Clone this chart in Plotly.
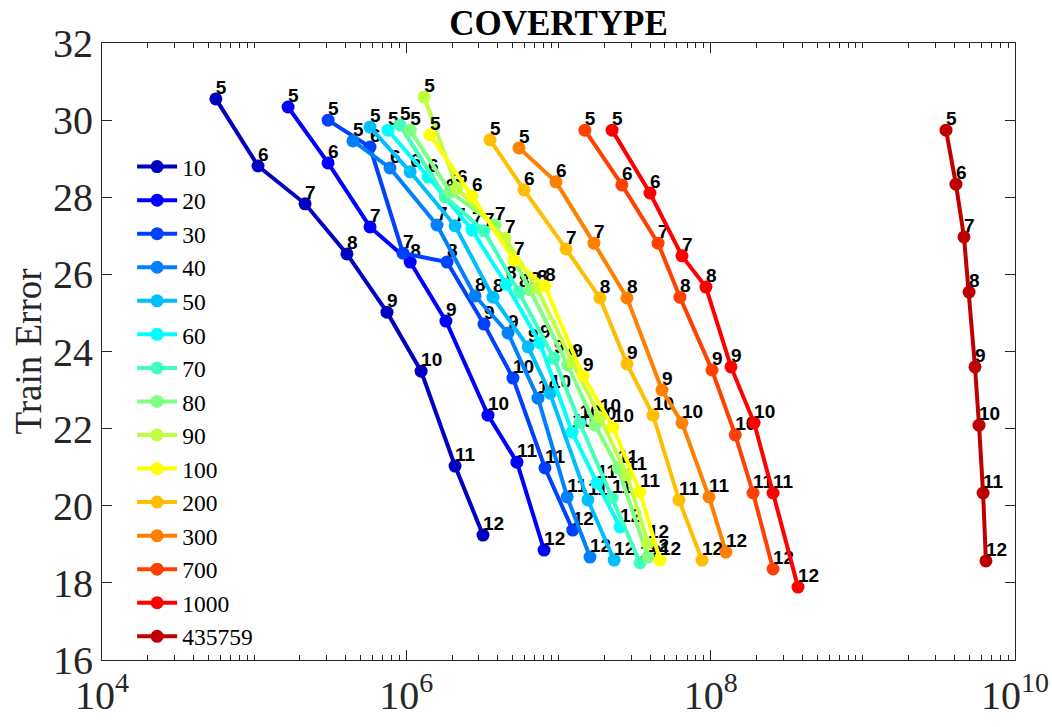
import plotly.graph_objects as go

# Legend names (number of ... per series)
series_names = ["10", "20", "30", "40", "50", "60", "70", "80", "90", "100",
                "200", "300", "700", "1000", "435759"]
point_labels = ["5", "6", "7", "8", "9", "10", "11", "12"]

colors = ["#0000BF", "#0000FF", "#0040FF", "#0080FF", "#00BFFF", "#00FFFF",
          "#40FFBF", "#80FF80", "#BFFF40", "#FFFF00", "#FFBF00", "#FF8000",
          "#FF4000", "#FF0000", "#BF0000"]

# x values (log scale) per series, for points 5..12
x_10 = [5.6e4, 1.06e5, 2.16e5, 4.07e5, 7.46e5, 1.25e6, 2.09e6, 3.19e6]
x_20 = [1.67e5, 3.06e5, 5.77e5, 1.06e6, 1.82e6, 3.44e6, 5.33e6, 8.04e6]
x_30 = [3.06e5, 5.77e5, 9.51e5, 1.85e6, 3.24e6, 5.02e6, 8.15e6, 1.24e7]
x_40 = [4.46e5, 7.81e5, 1.59e6, 2.83e6, 4.66e6, 7.33e6, 1.14e7, 1.61e7]
x_50 = [5.77e5, 1.06e6, 2.09e6, 3.71e6, 6.31e6, 8.79e6, 1.56e7, 2.32e7]
x_60 = [7.57e5, 1.39e6, 2.70e6, 4.52e6, 7.55e6, 1.23e7, 1.79e7, 2.54e7]
x_70 = [9.08e5, 1.80e6, 3.24e6, 5.50e6, 9.33e6, 1.38e7, 2.25e7, 3.43e7]
x_80 = [1.06e6, 1.94e6, 3.83e6, 6.50e6, 1.15e7, 1.74e7, 2.46e7, 3.87e7]
x_90 = [1.31e6, 2.15e6, 4.45e6, 7.22e6, 1.23e7, 1.87e7, 2.82e7, 3.87e7]
x_100 = [1.43e6, 2.70e6, 5.10e6, 8.15e6, 1.45e7, 2.28e7, 3.43e7, 4.65e7]
x_200 = [3.55e6, 5.93e6, 1.12e7, 1.87e7, 2.82e7, 4.18e7, 6.19e7, 8.77e7]
x_300 = [5.50e6, 9.62e6, 1.71e7, 2.82e7, 4.79e7, 6.48e7, 9.75e7, 1.26e8]
x_700 = [1.49e7, 2.61e7, 4.51e7, 6.28e7, 1.02e8, 1.45e8, 1.90e8, 2.57e8]
x_1000 = [2.25e7, 3.99e7, 6.48e7, 9.31e7, 1.36e8, 1.93e8, 2.57e8, 3.75e8]
x_full = [3.52e9, 4.09e9, 4.62e9, 4.99e9, 5.46e9, 5.80e9, 6.17e9, 6.44e9]

# Train error per series, for points 5..12
y_10 = [30.55, 28.81, 27.83, 26.53, 25.02, 23.49, 21.03, 19.24]
y_20 = [30.34, 28.89, 27.23, 26.32, 24.79, 22.35, 21.13, 18.85]
y_30 = [30.00, 29.30, 26.55, 26.32, 24.71, 23.31, 20.98, 19.37]
y_40 = [29.46, 28.76, 27.28, 25.44, 24.48, 22.79, 20.23, 18.67]
y_50 = [29.82, 28.66, 27.26, 25.41, 24.12, 22.92, 20.15, 18.59]
y_60 = [29.74, 28.53, 27.15, 25.75, 24.22, 21.91, 20.59, 19.45]
y_70 = [29.87, 28.01, 27.13, 25.54, 23.83, 22.15, 20.20, 18.52]
y_80 = [29.74, 28.14, 27.28, 25.60, 23.65, 22.09, 20.98, 18.67]
y_90 = [30.60, 28.24, 26.94, 25.65, 23.73, 22.30, 20.80, 19.03]
y_100 = [29.62, 28.03, 26.37, 25.70, 23.37, 22.04, 20.36, 18.59]
y_200 = [29.49, 28.19, 26.66, 25.39, 23.68, 22.35, 20.15, 18.59]
y_300 = [29.28, 28.40, 26.81, 25.39, 23.00, 22.15, 20.23, 18.80]
y_700 = [29.74, 28.32, 26.81, 25.41, 23.52, 21.84, 20.33, 18.36]
y_1000 = [29.74, 28.11, 26.48, 25.67, 23.60, 22.15, 20.33, 17.89]
y_full = [29.74, 28.34, 26.97, 25.54, 23.60, 22.09, 20.33, 18.57]

xs = [x_10, x_20, x_30, x_40, x_50, x_60, x_70, x_80, x_90, x_100,
      x_200, x_300, x_700, x_1000, x_full]
ys = [y_10, y_20, y_30, y_40, y_50, y_60, y_70, y_80, y_90, y_100,
      y_200, y_300, y_700, y_1000, y_full]

major_x = [1e4, 1e6, 1e8, 1e10]
major_x_text = ["10<sup>4</sup>", "10<sup>6</sup>", "10<sup>8</sup>", "10<sup>10</sup>"]
minor_x = [k * 10 ** d for d in range(4, 10) for k in range(2, 11)
           if k * 10 ** d not in (1e6, 1e8, 1e10)]
y_ticks = [16, 18, 20, 22, 24, 26, 28, 30, 32]

serif = "Liberation Serif, Times New Roman, serif"
sans = "Liberation Sans, Arial, sans-serif"

fig = go.Figure()
for name, x, y, c in zip(series_names, xs, ys, colors):
    fig.add_trace(go.Scatter(
        x=x, y=y, name=name, mode="lines+markers",
        line=dict(color=c, width=4),
        marker=dict(color=c, size=13, symbol="circle"),
    ))
    fig.add_trace(go.Scatter(
        x=x, y=y, mode="text", text=point_labels, textposition="top right",
        textfont=dict(family=sans, size=19, color="black", weight="bold"),
        showlegend=False, hoverinfo="skip",
    ))

axis_common = dict(
    showline=True, linecolor="#262626", linewidth=1, mirror="ticks",
    ticks="inside", tickcolor="#262626", showgrid=False, zeroline=False,
    automargin=False,
    tickfont=dict(family=serif, size=40, color="#262626"),
)

fig.update_layout(
    width=1052, height=727,
    margin=dict(l=102, r=37, t=43, b=67),
    paper_bgcolor="white", plot_bgcolor="white",
    title=dict(text="<b>COVERTYPE</b>", x=0.5, xanchor="center",
               xref="paper", y=0.985, yanchor="top",
               font=dict(family=serif, size=35, color="black")),
    xaxis=dict(type="log", range=[4, 10], tickmode="array",
               tickvals=major_x, ticktext=major_x_text, ticklen=10,
               minor=dict(tickmode="array", tickvals=minor_x, ticks="inside",
                          ticklen=5, tickcolor="#262626", showgrid=False),
               **axis_common),
    yaxis=dict(range=[16, 32], tickmode="array", tickvals=y_ticks, ticklen=10,
               title=dict(text="Train Error", font=dict(family=serif, size=37, color="#262626"),
                          standoff=0),
               **axis_common),
    legend=dict(x=0.033, y=0.835, xanchor="left", yanchor="top",
                bgcolor="rgba(255,255,255,0)", borderwidth=0,
                font=dict(family=serif, size=23.5, color="black"),
                itemwidth=40, tracegroupgap=0),
    showlegend=True,
)

fig.write_html("out.html")
